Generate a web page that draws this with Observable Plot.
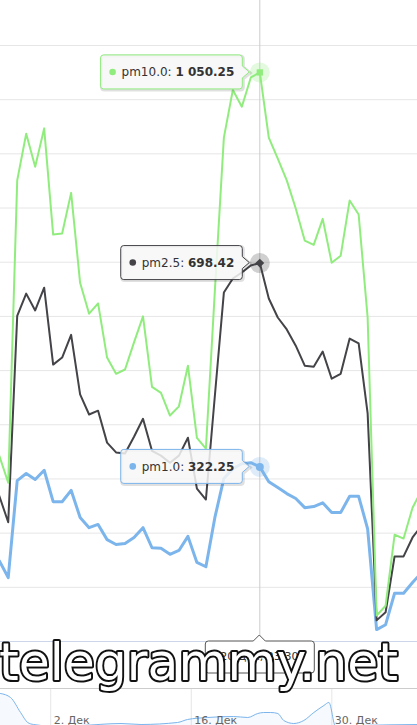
<!DOCTYPE html>
<html>
<head>
<meta charset="utf-8">
<script src="https://cdn.jsdelivr.net/npm/d3@7"></script>
<script src="https://cdn.jsdelivr.net/npm/@observablehq/plot@0.6"></script>
<style>
html, body { margin: 0; padding: 0; background: #fff; }
#wrap { position: relative; width: 417px; height: 725px; overflow: hidden; background: #fff; }
#nav { position: absolute; left: 0; top: 688px; }
#main { position: absolute; left: 0; top: 0; }
</style>
</head>
<body>
<div id="wrap"><div id="nav"></div><div id="main"></div></div>
<script>
// ---------- data ----------
const seriesNames = ["pm1.0", "pm2.5", "pm10.0"];
const seriesColors = ["#7cb5ec", "#434348", "#90ed7d"];
const startTime = "2019-12-19T18:30:00Z"; // first hourly sample
const pm10 = [343, 293, 851, 937, 876, 947, 751, 753, 828, 662, 605, 624, 524, 494, 502, 552, 600, 470, 459, 417, 434, 509, 376, 356, 648, 930, 1018, 987, 1041, 1050.25, 930, 891, 851, 799, 740, 732, 780, 699, 712, 814, 788, 598, 48, 66, 197, 190, 247, 279];
const pm25 = [269, 220, 601, 642, 611, 653, 511, 524, 566, 456, 419, 426, 367, 349, 347, 378, 411, 352, 343, 330, 343, 376, 282, 262, 454, 644, 670, 681, 694, 698.42, 633, 598, 576, 546, 509, 507, 535, 485, 494, 559, 550, 421, 39, 54, 157, 157, 192, 214];
const pm1 = [149, 118, 297, 310, 299, 316, 258, 258, 279, 229, 210, 216, 188, 179, 181, 192, 210, 173, 172, 161, 168, 194, 146, 138, 229, 301, 319, 328, 330, 322.25, 295, 284, 273, 264, 247, 249, 256, 238, 238, 268, 268, 208, 22, 31, 89, 89, 109, 127];
const yTicks = [0, 100, 200, 300, 400, 500, 600, 700, 800, 900, 1000, 1100];
const hoverIndex = 29;
const valueLabels = ["322.25", "698.42", "1 050.25"];
const axisTooltip = "20 Дек, 23:30";

const navDates = ["2019-11-27T00:00Z", "2019-11-28T00:00Z", "2019-11-29T00:00Z", "2019-11-29T17:00Z", "2019-11-30T07:00Z", "2019-12-02T00:00Z", "2019-12-05T00:00Z", "2019-12-09T00:00Z", "2019-12-11T00:00Z", "2019-12-14T15:00Z", "2019-12-15T15:00Z", "2019-12-17T15:00Z", "2019-12-20T05:00Z", "2019-12-21T15:00Z", "2019-12-22T15:00Z", "2019-12-23T05:00Z", "2019-12-23T22:00Z", "2019-12-24T15:00Z", "2019-12-25T05:00Z", "2019-12-26T05:00Z", "2019-12-27T05:00Z", "2019-12-28T05:00Z", "2019-12-29T05:00Z", "2019-12-29T17:00Z", "2019-12-30T09:00Z", "2020-01-01T21:00Z", "2020-01-07T12:00Z"];
const navValues = [350, 310, 160, 60, 40, 25, 30, 50, 40, 60, 90, 110, 120, 110, 150, 160, 160, 150, 80, 50, 80, 160, 230, 260, 20, 30, 40];
const navTicks = ["2019-12-02T00:00Z", "2019-12-16T00:00Z", "2019-12-30T00:00Z"];
const navTickLabels = ["2. Дек", "16. Дек", "30. Дек"];
const watermark = "telegrammy.net";

// ---------- tables ----------
const HOUR = 3600e3;
const t0 = new Date(startTime).getTime();
const rows = pm1.map((_, k) => ({time: new Date(t0 + k * HOUR), pm1: pm1[k], pm25: pm25[k], pm10: pm10[k]}));
const hover = rows[hoverIndex];
const xDomain = [new Date(t0 + 0.14 * HOUR), new Date(t0 + 46.55 * HOUR)];
const font = "'DejaVu Sans', Verdana, sans-serif";

// ---------- main chart ----------
const main = Plot.plot({
  width: 417, height: 725,
  marginTop: 0, marginRight: 0, marginBottom: 84, marginLeft: 0,
  style: {background: "transparent", overflow: "visible", fontFamily: font},
  x: {type: "utc", domain: xDomain, axis: null},
  y: {domain: [0, 1183], axis: null},
  marks: [
    Plot.ruleY(yTicks, {stroke: "#e6e6e6", strokeWidth: 1}),
    Plot.ruleY([0], {stroke: "#ccd6eb", strokeWidth: 1}),
    Plot.ruleX([hover.time], {stroke: "#cccccc", strokeWidth: 1}),
    Plot.lineY(rows, {x: "time", y: "pm1", stroke: seriesColors[0], strokeWidth: 3, clip: true, curve: "linear"}),
    Plot.lineY(rows, {x: "time", y: "pm25", stroke: seriesColors[1], strokeWidth: 2, clip: true, curve: "linear"}),
    Plot.lineY(rows, {x: "time", y: "pm10", stroke: seriesColors[2], strokeWidth: 2, clip: true, curve: "linear"}),
    Plot.dot([hover], {x: "time", y: "pm1", r: 10, fill: seriesColors[0], fillOpacity: 0.25}),
    Plot.dot([hover], {x: "time", y: "pm25", r: 10, fill: seriesColors[1], fillOpacity: 0.25}),
    Plot.dot([hover], {x: "time", y: "pm10", r: 10, fill: seriesColors[2], fillOpacity: 0.25}),
    Plot.dot([hover], {x: "time", y: "pm1", r: 4, fill: seriesColors[0], symbol: "circle"}),
    Plot.dot([hover], {x: "time", y: "pm25", r: 4, fill: seriesColors[1], symbol: "diamond2"}),
    Plot.dot([hover], {x: "time", y: "pm10", r: 4, fill: seriesColors[2], symbol: "square2"})
  ]
});
document.getElementById("main").appendChild(main);

// scales from the plot
function getScale(name, fallback) {
  const s = main.scale(name);
  if (s && typeof s.apply === "function") return v => s.apply(v);
  return fallback(s.domain, s.range);
}
const sx = getScale("x", (d, r) => d3.scaleUtc(d, r));
const sy = getScale("y", (d, r) => d3.scaleLinear(d, r));

const svg = d3.select(main.tagName.toLowerCase() === "svg" ? main : main.querySelector("svg"));
const tipLayer = svg.append("g").attr("text-anchor", "start");

function sideTooltip(px, py, name, value, color) {
  const g = tipLayer.append("g");
  const shadow = g.append("path");
  const box = g.append("path");
  const txt = g.append("text")
    .attr("text-anchor", "start")
    .attr("font-family", font).attr("font-size", 12).attr("fill", "#333")
    .attr("y", py).attr("dy", "0.35em");
  txt.append("tspan").text(name + ": ");
  txt.append("tspan").attr("font-weight", "bold").text(value);
  const w = txt.node().getComputedTextLength();
  const R = px - 17, tip = px - 10;
  const textX = R - 8 - w;
  const L = textX - 21;
  txt.attr("x", textX);
  g.append("circle").attr("cx", textX - 9).attr("cy", py).attr("r", 3.3).attr("fill", color);
  const T = py - 17, B = py + 17, r = 3;
  const d = `M${L + r},${T} H${R - r} Q${R},${T} ${R},${T + r} V${py - 6} L${tip},${py} L${R},${py + 6} V${B - r} Q${R},${B} ${R - r},${B} H${L + r} Q${L},${B} ${L},${B - r} V${T + r} Q${L},${T} ${L + r},${T} Z`;
  shadow.attr("d", d).attr("transform", "translate(1,1)").attr("fill", "none").attr("stroke", "rgba(0,0,0,0.12)").attr("stroke-width", 3);
  box.attr("d", d).attr("fill", "rgba(247,247,247,0.85)").attr("stroke", color).attr("stroke-width", 1);
}

const px = sx(hover.time);
sideTooltip(px, sy(hover.pm10), seriesNames[2], valueLabels[2], seriesColors[2]);
sideTooltip(px, sy(hover.pm25), seriesNames[1], valueLabels[1], seriesColors[1]);
sideTooltip(px, sy(hover.pm1), seriesNames[0], valueLabels[0], seriesColors[0]);

// x-axis crosshair label
{
  const top = sy(0), L = px - 54, R = px + 55, B = top + 32, r = 3;
  const d = `M${L + r},${top} H${px - 6} L${px},${top - 6} L${px + 6},${top} H${R - r} Q${R},${top} ${R},${top + r} V${B - r} Q${R},${B} ${R - r},${B} H${L + r} Q${L},${B} ${L},${B - r} V${top + r} Q${L},${top} ${L + r},${top} Z`;
  tipLayer.append("path").attr("d", d).attr("fill", "rgba(255,255,255,0.95)").attr("stroke", "#555").attr("stroke-width", 1);
  tipLayer.append("text").attr("x", px).attr("y", top + 19).attr("text-anchor", "middle")
    .attr("font-family", font).attr("font-size", 11).attr("fill", "#333").text(axisTooltip);
}

// watermark
svg.append("text").text(watermark)
  .attr("text-anchor", "start")
  .attr("x", -1).attr("y", 680)
  .attr("font-family", font).attr("font-size", 52)
  .attr("textLength", 399).attr("lengthAdjust", "spacingAndGlyphs")
  .attr("fill", "#fff").attr("stroke", "#111").attr("stroke-width", 4)
  .attr("stroke-linejoin", "round").attr("paint-order", "stroke");

// ---------- navigator ----------
const navRows = navDates.map((d, k) => ({date: new Date(d), value: navValues[k]}));
const navTickDates = navTicks.map(d => new Date(d));
const nav = Plot.plot({
  width: 417, height: 40,
  marginTop: 0, marginRight: 0, marginBottom: 0, marginLeft: 0,
  style: {background: "transparent", overflow: "visible", fontFamily: font},
  x: {type: "utc", domain: [new Date("2019-11-27T00:00Z"), new Date("2020-01-07T12:45Z")], axis: null},
  y: {domain: [0, 400], axis: null},
  marks: [
    Plot.ruleX(navTickDates, {stroke: "#e6e6e6"}),
    Plot.areaY(navRows, {x: "date", y: "value", fill: "#7cb5ec", fillOpacity: 0.07, curve: "monotone-x"}),
    Plot.lineY(navRows, {x: "date", y: "value", stroke: "#7cb5ec", strokeWidth: 1, curve: "monotone-x"}),
    Plot.ruleY([400], {stroke: "#cccccc"}),
    Plot.text(navTickDates, {x: d => d, text: (d, i) => navTickLabels[i], frameAnchor: "bottom", dy: -5, dx: 3, textAnchor: "start", fill: "#666", fontSize: 11})
  ]
});
document.getElementById("nav").appendChild(nav);
</script>
</body>
</html>
